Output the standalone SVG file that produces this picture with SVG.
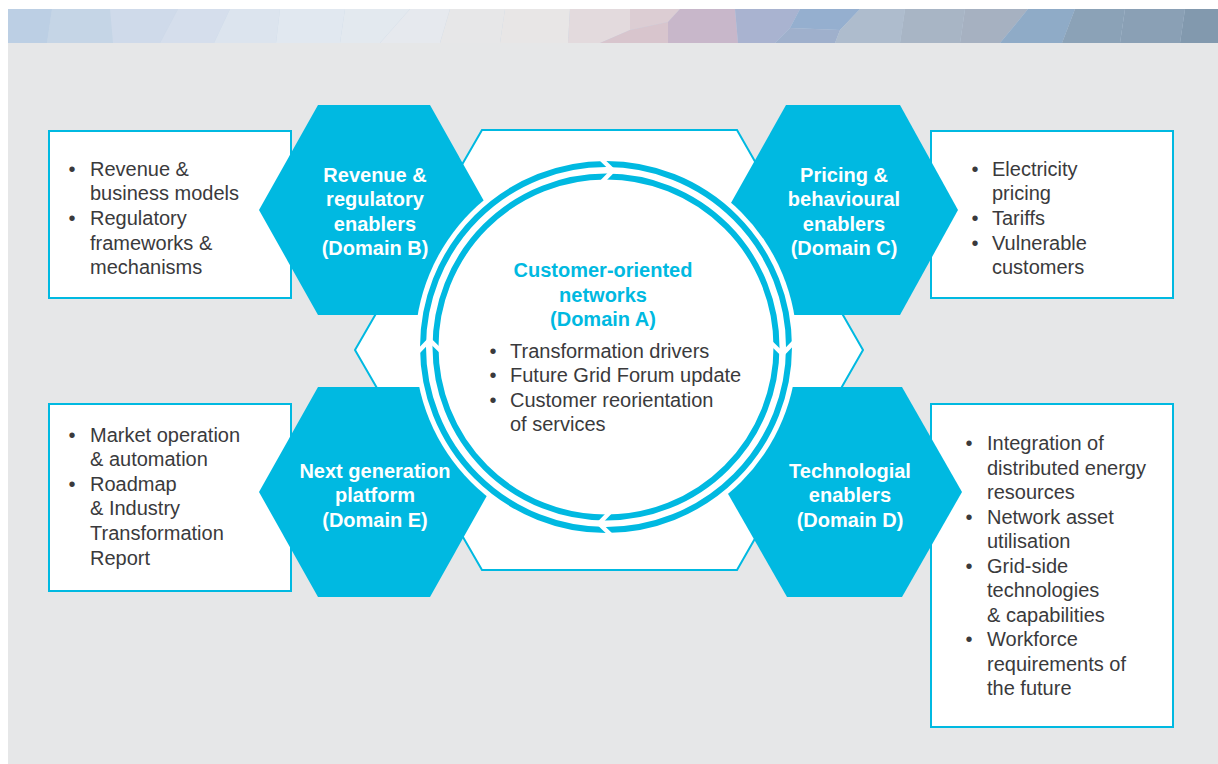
<svg xmlns="http://www.w3.org/2000/svg" width="1218" height="764" viewBox="0 0 1218 764">
<style>
.txt{font-family:"Liberation Sans",Arial,sans-serif;font-size:20px;fill:#3a3a3c}
.hl{font-family:"Liberation Sans",Arial,sans-serif;font-size:20px;font-weight:bold;fill:#ffffff;text-anchor:middle}
.hd{font-family:"Liberation Sans",Arial,sans-serif;font-size:20px;font-weight:bold;fill:#00b9e1;text-anchor:middle}
.bul{font-family:"Liberation Sans",Arial,sans-serif;font-size:20px;fill:#3a3a3c;text-anchor:middle}
.box{fill:#ffffff;stroke:#00b9e1;stroke-width:2}
.hex{fill:#00b9e1}
.ring{fill:none;stroke:#00b9e1;stroke-width:6}
.gap{fill:none;stroke:#ffffff;stroke-width:4.5}
</style>
<rect x="0" y="0" width="1218" height="764" fill="#ffffff"/>
<rect x="8" y="43" width="1210" height="721" fill="#e6e7e8"/>
<g id="banner">
<rect x="8" y="9" width="1210" height="34" fill="#c5d5e6"/>
<polygon points="8,9 52,9 47,43 8,43" fill="#bccfe4"/>
<polygon points="52,9 110,9 113,43 47,43" fill="#c5d5e6"/>
<polygon points="110,9 178,9 160,43 113,43" fill="#cfdaea"/>
<polygon points="178,9 230,9 214,43 160,43" fill="#d5deec"/>
<polygon points="230,9 280,9 276,43 214,43" fill="#dce4ee"/>
<polygon points="280,9 345,9 340,43 276,43" fill="#e1e8f0"/>
<polygon points="345,9 410,9 380,43 340,43" fill="#e3e9ef"/>
<polygon points="410,9 450,9 440,43 380,43" fill="#e6e9ee"/>
<polygon points="450,9 505,9 500,43 440,43" fill="#e7e7e8"/>
<polygon points="505,9 570,9 568,43 500,43" fill="#e8e6e6"/>
<polygon points="570,9 630,9 630,30 600,43 568,43" fill="#e3dadd"/>
<polygon points="630,9 680,9 668,22 630,30" fill="#dccdd3"/>
<polygon points="630,30 668,22 668,43 600,43" fill="#d8c5cd"/>
<polygon points="680,9 735,9 738,43 668,43 668,22" fill="#c8b7ca"/>
<polygon points="735,9 800,9 790,28 775,43 738,43" fill="#a9b3d0"/>
<polygon points="800,9 860,9 840,30 790,28" fill="#95afcf"/>
<polygon points="790,28 840,30 835,43 775,43" fill="#9fb0cc"/>
<polygon points="860,9 905,9 900,43 835,43 840,30" fill="#aebccd"/>
<polygon points="905,9 965,9 960,43 900,43" fill="#a8b5c5"/>
<polygon points="965,9 1028,9 1015,25 1000,43 960,43" fill="#a6b1c1"/>
<polygon points="1015,25 1028,9 1075,9 1062,43 1000,43" fill="#8fabc7"/>
<polygon points="1075,9 1125,9 1120,43 1062,43" fill="#8ba2b7"/>
<polygon points="1125,9 1185,9 1180,43 1120,43" fill="#8aa0b5"/>
<polygon points="1185,9 1218,9 1218,43 1180,43" fill="#8299ae"/>
</g>
<g id="box-b"><rect class="box" x="49" y="131" width="242" height="167"/>
<text class="bul" x="72" y="176">•</text><text class="txt" x="90" y="176">Revenue &amp;</text>
<text class="txt" x="90" y="200">business models</text>
<text class="bul" x="72" y="225">•</text><text class="txt" x="90" y="225">Regulatory</text>
<text class="txt" x="90" y="250">frameworks &amp;</text>
<text class="txt" x="90" y="274">mechanisms</text></g>
<g id="box-c"><rect class="box" x="931" y="131" width="242" height="167"/>
<text class="bul" x="975" y="176">•</text><text class="txt" x="992" y="176">Electricity</text>
<text class="txt" x="992" y="200">pricing</text>
<text class="bul" x="975" y="225">•</text><text class="txt" x="992" y="225">Tariffs</text>
<text class="bul" x="975" y="250">•</text><text class="txt" x="992" y="250">Vulnerable</text>
<text class="txt" x="992" y="274">customers</text></g>
<g id="box-e"><rect class="box" x="49" y="404" width="242" height="187"/>
<text class="bul" x="72" y="442">•</text><text class="txt" x="90" y="442">Market operation</text>
<text class="txt" x="90" y="466">&amp; automation</text>
<text class="bul" x="72" y="491">•</text><text class="txt" x="90" y="491">Roadmap</text>
<text class="txt" x="90" y="515">&amp; Industry</text>
<text class="txt" x="90" y="540">Transformation</text>
<text class="txt" x="90" y="565">Report</text></g>
<g id="box-d"><rect class="box" x="931" y="404" width="242" height="323"/>
<text class="bul" x="969" y="450">•</text><text class="txt" x="987" y="450">Integration of</text>
<text class="txt" x="987" y="475">distributed energy</text>
<text class="txt" x="987" y="499">resources</text>
<text class="bul" x="969" y="524">•</text><text class="txt" x="987" y="524">Network asset</text>
<text class="txt" x="987" y="548">utilisation</text>
<text class="bul" x="969" y="573">•</text><text class="txt" x="987" y="573">Grid-side</text>
<text class="txt" x="987" y="597">technologies</text>
<text class="txt" x="987" y="622">&amp; capabilities</text>
<text class="bul" x="969" y="646">•</text><text class="txt" x="987" y="646">Workforce</text>
<text class="txt" x="987" y="671">requirements of</text>
<text class="txt" x="987" y="695">the future</text></g>
<g id="frame"><polygon points="482,130 737,130 863,350 737,570 482,570 355,350" fill="#ffffff" stroke="#00b9e1" stroke-width="2"/></g>
<g id="hex-b"><polygon class="hex" points="318,105 430,105 489,210 430,315 318,315 259,210"/>
<text class="hl" x="375" y="182">Revenue &amp;</text><text class="hl" x="375" y="206">regulatory</text><text class="hl" x="375" y="231">enablers</text><text class="hl" x="375" y="255">(Domain B)</text></g>
<g id="hex-c"><polygon class="hex" points="786,105 900,105 958,210 900,315 786,315 727,210"/>
<text class="hl" x="844" y="182">Pricing &amp;</text><text class="hl" x="844" y="206">behavioural</text><text class="hl" x="844" y="231">enablers</text><text class="hl" x="844" y="255">(Domain C)</text></g>
<g id="hex-e"><polygon class="hex" points="318,387 430,387 489,492 430,597 318,597 259,492"/>
<text class="hl" x="375" y="478">Next generation</text><text class="hl" x="375" y="502">platform</text><text class="hl" x="375" y="527">(Domain E)</text></g>
<g id="hex-d"><polygon class="hex" points="787,387 902,387 962,492 902,597 787,597 727,492"/>
<text class="hl" x="850" y="478">Technologial</text><text class="hl" x="850" y="502">enablers</text><text class="hl" x="850" y="527">(Domain D)</text></g>
<g id="domain-a">
<circle cx="606" cy="347" r="191" fill="#ffffff"/>
<circle class="ring" cx="606" cy="347" r="183"/>
<circle class="ring" cx="606" cy="347" r="170.5"/>
<g id="connectors">
<polyline class="gap" points="597,155 613,170.5 597,187"/>
<polyline class="gap" points="597,155 613,170.5 597,187" transform="rotate(90 606 347)"/>
<polyline class="gap" points="597,155 613,170.5 597,187" transform="rotate(180 606 347)"/>
<polyline class="gap" points="597,155 613,170.5 597,187" transform="rotate(270 606 347)"/>
</g>
<text class="hd" x="603" y="277">Customer-oriented</text>
<text class="hd" x="603" y="302">networks</text>
<text class="hd" x="603" y="326">(Domain A)</text>
<text class="bul" x="493" y="358">•</text><text class="txt" x="510" y="358">Transformation drivers</text>
<text class="bul" x="493" y="382">•</text><text class="txt" x="510" y="382">Future Grid Forum update</text>
<text class="bul" x="493" y="407">•</text><text class="txt" x="510" y="407">Customer reorientation</text>
<text class="txt" x="510" y="431">of services</text>
</g>
</svg>
